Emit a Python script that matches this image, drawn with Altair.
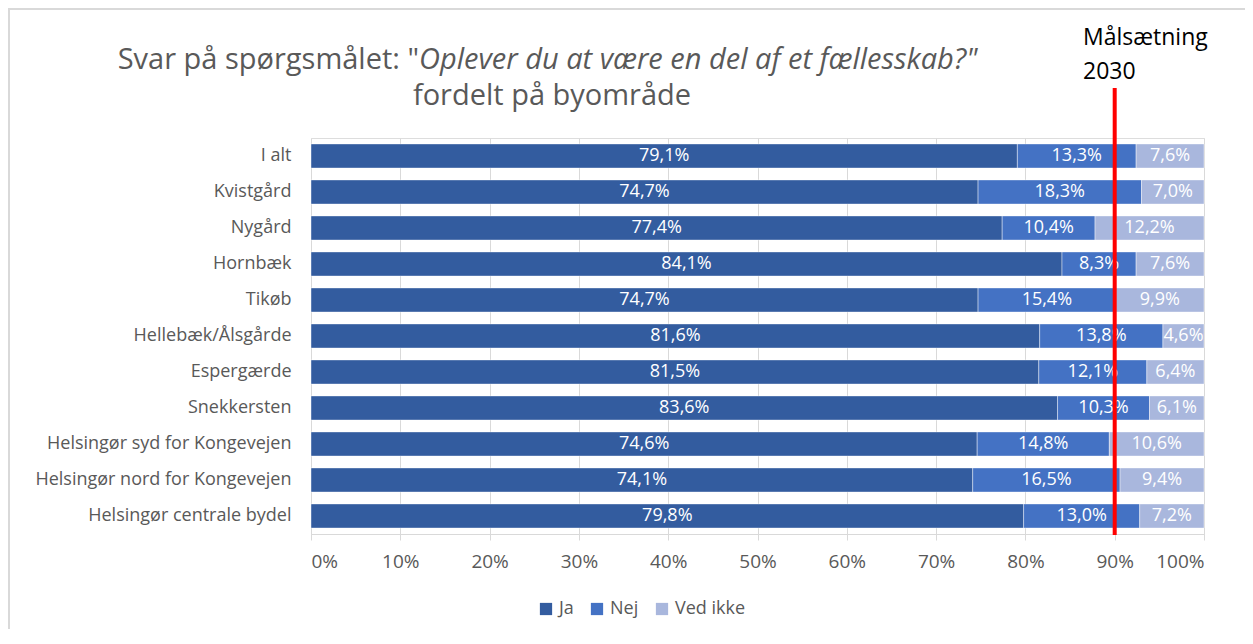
import altair as alt
import pandas as pd

areas = ["I alt", "Kvistgård", "Nygård", "Hornbæk", "Tikøb", "Hellebæk/Ålsgårde",
         "Espergærde", "Snekkersten", "Helsingør syd for Kongevejen",
         "Helsingør nord for Kongevejen", "Helsingør centrale bydel"]
ja = [79.1, 74.7, 77.4, 84.1, 74.7, 81.6, 81.5, 83.6, 74.6, 74.1, 79.8]
nej = [13.3, 18.3, 10.4, 8.3, 15.4, 13.8, 12.1, 10.3, 14.8, 16.5, 13.0]
ved_ikke = [7.6, 7.0, 12.2, 7.6, 9.9, 4.6, 6.4, 6.1, 10.6, 9.4, 7.2]
answers = ["Ja", "Nej", "Ved ikke"]
colors = ["#335C9F", "#4472C4", "#A9B7DD"]
target = [90]
tick_values = [0, 10, 20, 30, 40, 50, 60, 70, 80, 90, 100]

rows = []
for i, a in enumerate(areas):
    start = 0.0
    for k, (ans, vals) in enumerate(zip(answers, [ja, nej, ved_ikke])):
        v = vals[i]
        rows.append({"area": a, "answer": ans, "order": k, "value": v,
                     "start": start, "end": start + v, "mid": start + v / 2,
                     "label": f"{v:.1f}%".replace(".", ",")})
        start += v
df = pd.DataFrame(rows)

FONT = "Open Sans"
GREY = "#595959"
W, H = 893, 396

xscale = alt.Scale(domain=[0, 100], nice=False)
yscale = alt.Scale(domain=areas, paddingInner=0.33, paddingOuter=0.165)

bars = alt.Chart(df).mark_bar(stroke="white", strokeWidth=0.6, strokeOpacity=0.7).encode(
    x=alt.X("start:Q", scale=xscale,
            axis=alt.Axis(values=tick_values, labelExpr="datum.value + '%'", title=None,
                          grid=True, gridColor="#D9D9D9", domainColor="#D9D9D9",
                          tickColor="#D9D9D9", tickSize=6, labelPadding=12,
                          labelFontSize=19, labelColor=GREY, labelFont=FONT)),
    x2="end:Q",
    y=alt.Y("area:N", scale=yscale, sort=areas,
            axis=alt.Axis(title=None, ticks=False, domain=False, labelPadding=20,
                          labelLimit=0, labelFontSize=18, labelColor=GREY, labelFont=FONT)),
    color=alt.Color("answer:N", scale=alt.Scale(domain=answers, range=colors),
                    legend=alt.Legend(title=None, orient="none", direction="horizontal",
                                      legendX=226, legendY=462, symbolType="square",
                                      symbolSize=150, symbolStrokeWidth=0,
                                      labelFontSize=18, labelColor=GREY, labelFont=FONT,
                                      columnPadding=14, labelOffset=4)),
    order="order:Q",
)

labels = alt.Chart(df).mark_text(color="white", fontSize=18, font=FONT).encode(
    x=alt.X("mid:Q", scale=xscale),
    y=alt.Y("area:N", scale=yscale, sort=areas),
    text="label:N",
)

tdf = pd.DataFrame({"target": target})
rule = alt.Chart(tdf).mark_rule(color="#FF0000", strokeWidth=4).encode(
    x=alt.X("target:Q", scale=xscale),
    y=alt.value(-50),
    y2=alt.value(H + 1),
)

goal_text = alt.Chart(tdf).mark_text(align="left", baseline="middle", fontSize=23,
                                      font=FONT, color="black", lineHeight=34).encode(
    x=alt.value(772),
    y=alt.value(-100),
    text=alt.value(["Målsætning", "2030"]),
)

title_a = alt.Chart(tdf).mark_text(align="right", baseline="middle", fontSize=29,
                                   font=FONT, color=GREY).encode(
    x=alt.value(108), y=alt.value(-78),
    text=alt.value('Svar på spørgsmålet: "'),
)
title_b = alt.Chart(tdf).mark_text(align="left", baseline="middle", fontSize=29,
                                   font=FONT, color=GREY, fontStyle="italic").encode(
    x=alt.value(108), y=alt.value(-78),
    text=alt.value('Oplever du at være en del af et fællesskab?"'),
)
title_c = alt.Chart(tdf).mark_text(align="center", baseline="middle", fontSize=29,
                                   font=FONT, color=GREY).encode(
    x=alt.value(241), y=alt.value(-42),
    text=alt.value("fordelt på byområde"),
)

border = alt.Chart(tdf).mark_rect(filled=False, stroke="#D9D9D9", strokeWidth=2).encode(
    x=alt.value(-302), y=alt.value(-129),
    x2=alt.value(1000), y2=alt.value(600),
)

chart = alt.layer(border, bars, labels, rule, goal_text, title_a, title_b, title_c).properties(
    width=W, height=H,
    autosize=alt.AutoSizeParams(type="none"),
    padding={"left": 303, "top": 130, "right": 41, "bottom": 95},
).configure_view(stroke=None).configure(background="white")

chart.save("out.html", embed_options={"renderer": "svg", "actions": False})
